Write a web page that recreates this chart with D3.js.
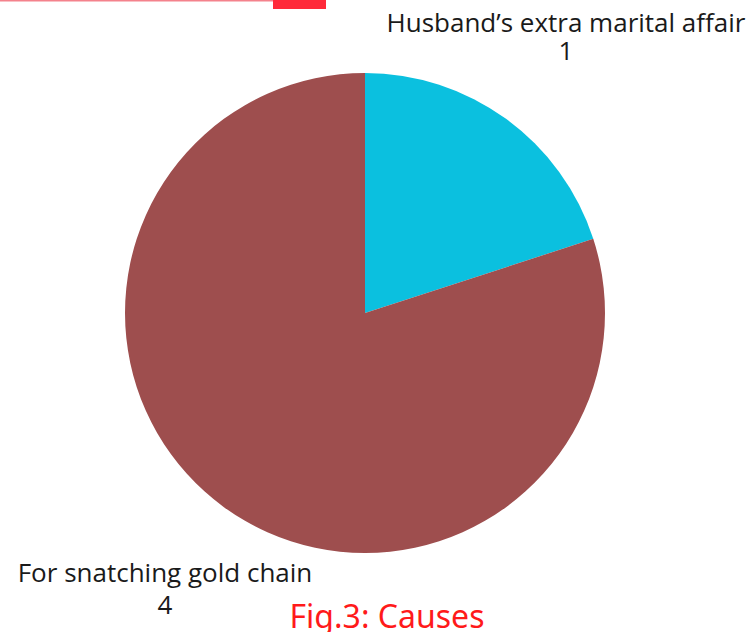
<!DOCTYPE html>
<html>
<head>
<meta charset="utf-8">
<script src="https://cdn.jsdelivr.net/npm/d3@7"></script>
<style>
  body { margin: 0; background: #fff; }
  text { font-family: "Open Sans", sans-serif; }
</style>
</head>
<body>
<div id="chart"></div>
<script>
// Pie chart - causes

var causes = ['Husband\u2019s extra marital affair', 'For snatching gold chain'];
var counts = [1, 4];
var colors = ['#0bc0df', '#9e4e4e'];

var width = 750;
var height = 632;

var svg = d3.select('#chart')
    .append('svg')
    .attr('width', width)
    .attr('height', height);

// header strip at the top
svg.append('rect')
    .attr('x', 0).attr('y', 0)
    .attr('width', 273).attr('height', 1.5)
    .attr('fill', '#f4828c');
svg.append('rect')
    .attr('x', 273).attr('y', 0)
    .attr('width', 53).attr('height', 9)
    .attr('fill', '#ff2a3a');

var cx = 365, cy = 313, radius = 240;

var pie = d3.pie()
    .sort(null)
    .value(function(d) { return d; });

var arc = d3.arc()
    .innerRadius(0)
    .outerRadius(radius);

var g = svg.append('g')
    .attr('transform', 'translate(' + cx + ',' + cy + ')');

g.selectAll('path')
    .data(pie(counts))
    .enter()
    .append('path')
    .attr('d', arc)
    .attr('fill', function(d, i) { return colors[i]; });

// labels: x, first line y, second line y
var labelPos = [[566, 32, 60], [165, 582, 614]];

causes.forEach(function(c, i) {
    var lab = svg.append('text')
        .attr('text-anchor', 'middle')
        .attr('fill', '#1a1a1a')
        .style('font-size', '26px');
    lab.append('tspan')
        .attr('x', labelPos[i][0])
        .attr('y', labelPos[i][1])
        .text(c);
    lab.append('tspan')
        .attr('x', labelPos[i][0])
        .attr('y', labelPos[i][2])
        .text(counts[i]);
});

// caption
svg.append('text')
    .attr('x', 387)
    .attr('y', 628)
    .attr('text-anchor', 'middle')
    .attr('fill', '#ff1a1a')
    .style('font-family', '"Noto Sans", sans-serif')
    .style('font-size', '32px')
    .text('Fig.3: Causes');
</script>
</body>
</html>
